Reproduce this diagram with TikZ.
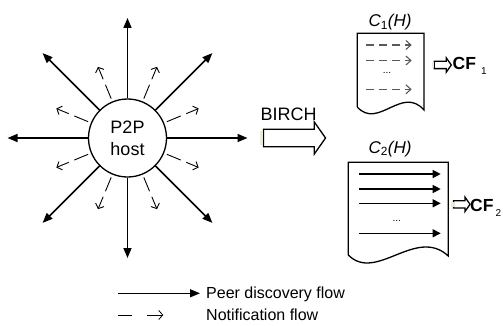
\documentclass[tikz,border=0pt]{standalone}
\usepackage{fontspec}
\setmainfont{Liberation Sans}
\usetikzlibrary{arrows.meta,shapes.arrows,positioning,calc}

\begin{document}
\begin{tikzpicture}[x=1pt,y=-1pt,
	host/.style={circle,draw,line width=1.3pt,minimum size=78pt,inner sep=0pt,align=center,font=\fontsize{18}{22}\selectfont},
	peer/.style={line width=1.5pt,-{Triangle[length=10pt,width=8pt]}},
	notify/.style={line width=0.9pt,dash pattern=on 15pt off 6pt,-{Straight Barb[length=4pt,width=9pt]}},
	hollow/.style={single arrow,draw,line width=1.3pt,fill=white,single arrow tip angle=110,inner xsep=0pt},
	patch/.style={fill={rgb,255:red,232;green,236;blue,214}},
	doc/.style={line width=1.3pt},
	title/.style={anchor=base,font=\fontsize{17}{17}\selectfont\itshape},
	cfflow/.style={line width=1.2pt,-{Triangle[length=8pt,width=8pt]}},
	nfflow/.style={line width=1.1pt,draw=black!65,dash pattern=on 8pt off 5pt,-{Straight Barb[length=5pt,width=9pt]}},
	dots/.style={anchor=base,inner sep=0pt,font=\fontsize{10}{10}\selectfont},
	cf/.style={anchor=base west,inner sep=0pt,font=\fontsize{17.5}{17.5}\selectfont\bfseries},
	legend/.style={anchor=base west,inner sep=0pt,font=\fontsize{16}{16}\selectfont}
]
	\useasboundingbox (0,0) rectangle (503,326);

	% host with its flows
	\node[host] (host) at (127.5,138) {P2P\\host};
	\foreach \a [count=\i] in {0,45,...,315} {
		\coordinate (p\i) at ($(host)+(\a:120pt)$);
		\draw[peer] (host) -- (p\i);
	}
	\foreach \a [count=\i] in {22.5,67.5,...,337.5} {
		\coordinate (n\i) at ($(host)+(\a:77pt)$);
		\draw[notify,shorten <=3pt] (host) -- (n\i);
	}

	% BIRCH
	\node[hollow,minimum height=62pt,inner ysep=8pt,single arrow head extend=7.5pt] (birch) at (291.5,138) {};
	\fill[patch] (259.8,130.7) rectangle (262.8,145.3);
	\node[anchor=base,inner sep=0pt,font=\fontsize{18}{18}\selectfont] (birchlbl) at (288.7,120.7) {BIRCH};

	% C1(H)
	\draw[doc] (357.3,107) -- (357.3,33.3) -- (424,33.3) -- (424,110)
		.. controls (402,85) and (378,130) .. (357.3,107);
	\node[title] (c1) at (390,27) {C\textsubscript{\upshape 1}(H)};
	\foreach \y [count=\i] in {45,60.5,89.3} {
		\coordinate (a\i) at (366,\y);
		\coordinate (b\i) at (411.7,\y);
		\draw[nfflow] (a\i) -- (b\i);
	}
	\node[dots] (d1) at (387,73.5) {...};
	\node[hollow,minimum height=17pt,inner ysep=3pt,single arrow head extend=3.5pt] (g1) at (441.5,65) {};
	\fill[patch] (432.2,62.3) rectangle (434.4,67.7);
	\node[cf] (cf1) at (452.5,70) {CF\kern5pt\raisebox{-5pt}{\mdseries\fontsize{10}{10}\selectfont 1}};

	% C2(H)
	\draw[doc] (348.3,255) -- (348.3,162.3) -- (448.3,162.3) -- (448.3,256)
		.. controls (416,226) and (376,283) .. (348.3,255);
	\node[title] (c2) at (390,153.3) {C\textsubscript{\upshape 2}(H)};
	\foreach \y [count=\i] in {174,189,203.3,233.3} {
		\coordinate (e\i) at (359.3,\y);
		\coordinate (f\i) at (440.7,\y);
		\draw[cfflow] (e\i) -- (f\i);
	}
	\node[dots] (d2) at (396.7,221.5) {...};
	\node[hollow,minimum height=16.5pt,inner ysep=3pt,single arrow head extend=3.5pt] (g2) at (460.5,204.3) {};
	\fill[patch] (451.3,201.6) rectangle (453.5,207);
	\node[cf] (cf2) at (470,211.7) {CF\kern2pt\raisebox{-5pt}{\mdseries\fontsize{10}{10}\selectfont 2}};

	% legend
	\coordinate (sa) at (118.3,293.3);
	\coordinate (sb) at (200,293.3);
	\draw[peer,line width=1.3pt] (sa) -- (sb);
	\node[legend] (pdf) at (206,298.3) {Peer discovery flow};
	\coordinate (na) at (118.3,315);
	\coordinate (nb) at (163.3,315);
	\draw[line width=0.8pt,dash pattern=on 13.4pt off 15pt on 30pt,-{Straight Barb[length=4pt,width=9pt]}] (na) -- (nb);
	\node[legend] (nf) at (206,320.7) {Notification flow};
\end{tikzpicture}
\end{document}
